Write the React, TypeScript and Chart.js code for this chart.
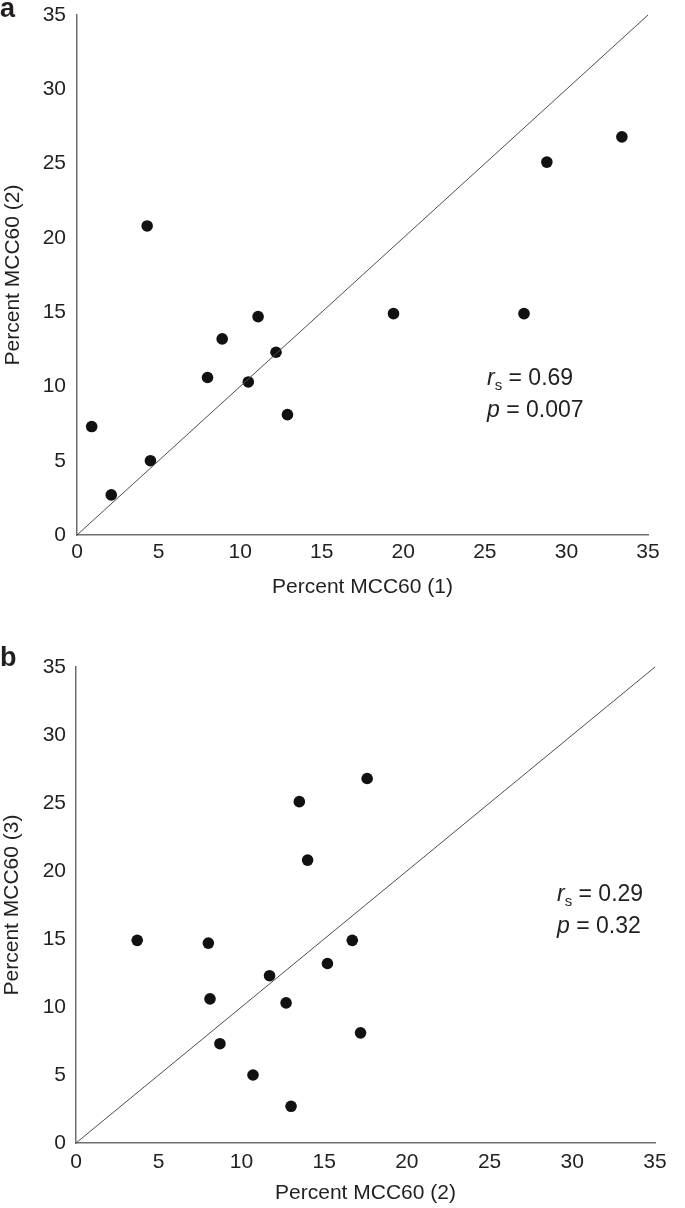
import React, { useEffect, useRef } from 'react';
import { Chart, registerables } from 'chart.js';

Chart.register(...registerables);

const FONT = '"Liberation Sans", Arial, Helvetica, sans-serif';
const TEXT = '#231f20';

// ---- data ----
const axisMin = 0;
const axisMax = 35;
const tickStep = 5;

// panel a: Percent MCC60 (1) vs Percent MCC60 (2)
const mccA1 = [0.9, 2.1, 4.3, 4.5, 8.0, 8.9, 10.5, 11.1, 12.2, 12.9, 19.4, 27.4, 28.8, 33.4];
const mccA2 = [7.3, 2.7, 20.8, 5.0, 10.6, 13.2, 10.3, 14.7, 12.3, 8.1, 14.9, 14.9, 25.1, 26.8];

// panel b: Percent MCC60 (2) vs Percent MCC60 (3)
const mccB2 = [8.7, 13.0, 14.0, 10.7, 8.1, 15.2, 12.7, 8.0, 11.7, 17.2, 3.7, 16.7, 13.5, 17.6];
const mccB3 = [7.3, 2.7, 20.8, 5.0, 10.6, 13.2, 10.3, 14.7, 12.3, 8.1, 14.9, 14.9, 25.1, 26.8];

// identity line y = x
const identityLine = [0, 35];

const panelLetters = ['a', 'b'];
const xTitles = ['Percent MCC60 (1)', 'Percent MCC60 (2)'];
const yTitles = ['Percent MCC60 (2)', 'Percent MCC60 (3)'];
const rsValues = ['0.69', '0.29'];
const pValues = ['0.007', '0.32'];

// ---- layout (not data) ----
const layouts = [
  {
    top: 0, height: 600,
    pad: { left: 0, top: 15, right: 37, bottom: 0 },
    yAxisWidth: 77, yTickPad: 11, yTitlePad: 1,
    xAxisHeight: 65, xTickPad: 5, xTitlePad: 0,
    letterBaseline: 17, statX: 487, statY: 385,
  },
  {
    top: 600, height: 608,
    pad: { left: 0, top: 67, right: 30, bottom: 0 },
    yAxisWidth: 76, yTickPad: 10, yTitlePad: 0,
    xAxisHeight: 65, xTickPad: 7, xTitlePad: 2,
    letterBaseline: 66, statX: 557, statY: 301,
  },
];

const seriesX = [mccA1, mccB2];
const seriesY = [mccA2, mccB3];

function Panel({ idx }: { idx: number }) {
  const ref = useRef<HTMLCanvasElement | null>(null);
  const L = layouts[idx];

  useEffect(() => {
    if (!ref.current) return;
    const xs = seriesX[idx];
    const ys = seriesY[idx];
    const pts = xs.map((x, i) => ({ x, y: ys[i] }));
    const line = identityLine.map((v) => ({ x: v, y: v }));

    const annot = {
      id: 'annot' + idx,
      afterDraw(chart: any) {
        const ctx = chart.ctx as CanvasRenderingContext2D;
        ctx.save();
        ctx.fillStyle = TEXT;
        ctx.textAlign = 'left';
        ctx.textBaseline = 'alphabetic';
        ctx.font = `bold 27px ${FONT}`;
        ctx.fillText(panelLetters[idx], 0, L.letterBaseline);

        let x = L.statX;
        const y1 = L.statY;
        ctx.font = `italic 23px ${FONT}`;
        ctx.fillText('r', x, y1);
        x += ctx.measureText('r').width;
        ctx.font = `15px ${FONT}`;
        ctx.fillText('s', x, y1 + 5);
        x += ctx.measureText('s').width;
        ctx.font = `23px ${FONT}`;
        ctx.fillText(' = ' + rsValues[idx], x, y1);

        x = L.statX;
        const y2 = y1 + 32;
        ctx.font = `italic 23px ${FONT}`;
        ctx.fillText('p', x, y2);
        x += ctx.measureText('p').width;
        ctx.font = `23px ${FONT}`;
        ctx.fillText(' = ' + pValues[idx], x, y2);
        ctx.restore();
      },
    };

    const tickFont = { family: FONT, size: 21 };
    const chart = new Chart(ref.current, {
      type: 'scatter',
      data: {
        datasets: [
          {
            data: line,
            showLine: true,
            borderColor: '#4d4d4d',
            borderWidth: 1,
            pointRadius: 0,
            fill: false,
            clip: false as any,
          },
          {
            data: pts,
            backgroundColor: '#111111',
            borderWidth: 0,
            pointRadius: 5.8,
          },
        ],
      },
      options: {
        animation: false,
        responsive: false,
        maintainAspectRatio: false,
        events: [],
        layout: { padding: L.pad },
        plugins: { legend: { display: false }, tooltip: { enabled: false } },
        scales: {
          x: {
            type: 'linear',
            min: axisMin,
            max: axisMax,
            grid: { display: false, drawTicks: false },
            border: { display: true, color: '#6d6e71', width: 1.5 },
            ticks: { stepSize: tickStep, padding: L.xTickPad, font: tickFont, color: TEXT, maxRotation: 0 },
            title: { display: true, text: xTitles[idx], font: tickFont, color: TEXT, padding: { top: 0, bottom: L.xTitlePad } },
            afterFit: (s: any) => {
              s.height = L.xAxisHeight;
              s.paddingLeft = 0;
              s.paddingRight = 0;
            },
          },
          y: {
            type: 'linear',
            min: axisMin,
            max: axisMax,
            grid: { display: false, drawTicks: false },
            border: { display: true, color: '#6d6e71', width: 1.5 },
            ticks: { stepSize: tickStep, padding: L.yTickPad, font: tickFont, color: TEXT },
            title: { display: true, text: yTitles[idx], font: tickFont, color: TEXT, padding: { top: L.yTitlePad, bottom: 0 } },
            afterFit: (s: any) => {
              s.width = L.yAxisWidth;
              s.paddingTop = 0;
              s.paddingBottom = 0;
            },
          },
        },
      },
      plugins: [annot],
    } as any);
    return () => chart.destroy();
  }, [idx]);

  return (
    <canvas
      ref={ref}
      width={685}
      height={L.height}
      style={{ position: 'absolute', left: 0, top: L.top, width: 685, height: L.height, display: 'block' }}
    />
  );
}

export default function App() {
  return (
    <div style={{ position: 'absolute', left: 0, top: 0, width: 685, height: 1208, background: '#fff' }}>
      <Panel idx={0} />
      <Panel idx={1} />
    </div>
  );
}
